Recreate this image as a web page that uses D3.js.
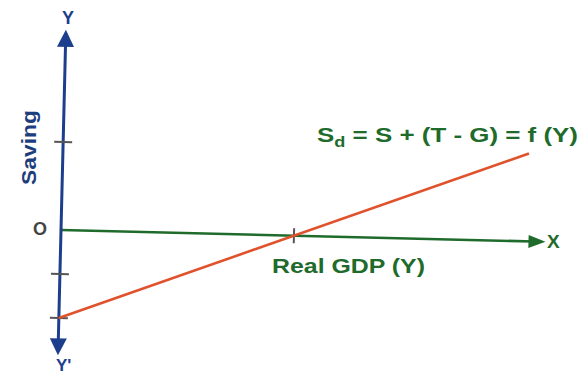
<!DOCTYPE html>
<html><head><meta charset="utf-8">
<script src="https://cdn.jsdelivr.net/npm/d3@7"></script>
<style>html,body{margin:0;padding:0;background:#fff;}svg{display:block;}</style>
</head><body>
<svg id="c" width="584" height="375"></svg>
<script>
// ---- data ----
const xExtent = [0, 10.4];          // Real GDP axis extent (units)
const yExtent = [-2.85, 4.55];      // Saving axis extent (units)
const xTicks = [5];
const yTicks = [2, -1, -2];
const lineX = [0, 10];              // Sd line: Real GDP values
const lineY = [-2, 2];              // Sd line: saving values
const formulaParts = ["S", "d", " = S + (T - G) = f (Y)"];
const xAxisLabel = "Real GDP (Y)";
const yAxisLabel = "Saving";

const blue = "#1d3e8c", green = "#1f6b2c", red = "#e0522c", gray = "#555";
const font = "'Liberation Sans', Arial, sans-serif";

const svg = d3.select("#c");
const x = d3.scaleLinear().domain([0, 10]).range([0, 466]);
const y = d3.scaleLinear().domain([-2, 2]).range([88, -88]);

const g = svg.append("g").attr("transform", "translate(61,230) rotate(1.4)");

// X axis (green) with arrow
g.append("line").attr("x1", x(0)).attr("y1", y(0)).attr("x2", x(xExtent[1]) - 12).attr("y2", y(0))
  .attr("stroke", green).attr("stroke-width", 2.6);
const xe = x(xExtent[1]);
g.append("path").attr("d", `M${xe},0 L${xe - 17},-6.5 L${xe - 17},6.5 Z`).attr("fill", green);

// Y axis (blue) with arrows
const yt = y(yExtent[1]), yb = y(yExtent[0]);
g.append("line").attr("x1", 0).attr("y1", yt + 12).attr("x2", 0).attr("y2", yb - 12)
  .attr("stroke", blue).attr("stroke-width", 3);
g.append("path").attr("d", `M0,${yt} L-8.5,${yt + 17} L8.5,${yt + 17} Z`).attr("fill", blue);
g.append("path").attr("d", `M0,${yb} L-8.5,${yb - 17} L8.5,${yb - 17} Z`).attr("fill", blue);

// ticks
g.selectAll(".yt").data(yTicks).join("line")
  .attr("x1", -9).attr("x2", 9).attr("y1", d => y(d)).attr("y2", d => y(d))
  .attr("stroke", gray).attr("stroke-width", 2);
g.selectAll(".xt").data(xTicks).join("line")
  .attr("x1", d => x(d)).attr("x2", d => x(d)).attr("y1", -7.5).attr("y2", 7.5)
  .attr("stroke", gray).attr("stroke-width", 2);

// Sd line (red)
const pts = lineX.map((v, i) => [x(v), y(lineY[i])]);
g.append("path").attr("d", d3.line()(pts)).attr("fill", "none")
  .attr("stroke", red).attr("stroke-width", 2.6);

// Labels
const lab = (t, px, py, fs, col, anchor) => svg.append("text").attr("x", px).attr("y", py)
  .attr("font-family", font).attr("font-weight", "bold").attr("font-size", fs)
  .attr("fill", col).attr("text-anchor", anchor || "start").text(t);

lab("Y", 68, 24, 18, blue, "middle");
lab("Y'", 56, 371, 17, blue, "start");
lab("X", 547, 248, 19, green, "start");
lab("O", 40, 235, 18, "#444", "middle");
lab(xAxisLabel, 272, 273, 21, green, "start").attr("textLength", 153).attr("lengthAdjust", "spacingAndGlyphs");

const f = svg.append("text").attr("x", 317).attr("y", 142)
  .attr("font-family", font).attr("font-weight", "bold").attr("font-size", 20).attr("fill", green)
  .attr("textLength", 261).attr("lengthAdjust", "spacingAndGlyphs");
f.append("tspan").text(formulaParts[0]);
f.append("tspan").attr("font-size", 14).attr("dy", 5).text(formulaParts[1]);
f.append("tspan").attr("dy", -5).text(formulaParts[2]);

svg.append("text").attr("transform", "translate(36,185) rotate(-90)")
  .attr("font-family", font).attr("font-weight", "bold").attr("font-size", 21)
  .attr("fill", "#1d3e7c").attr("textLength", 75).attr("lengthAdjust", "spacingAndGlyphs")
  .text(yAxisLabel);
</script>
</body></html>
